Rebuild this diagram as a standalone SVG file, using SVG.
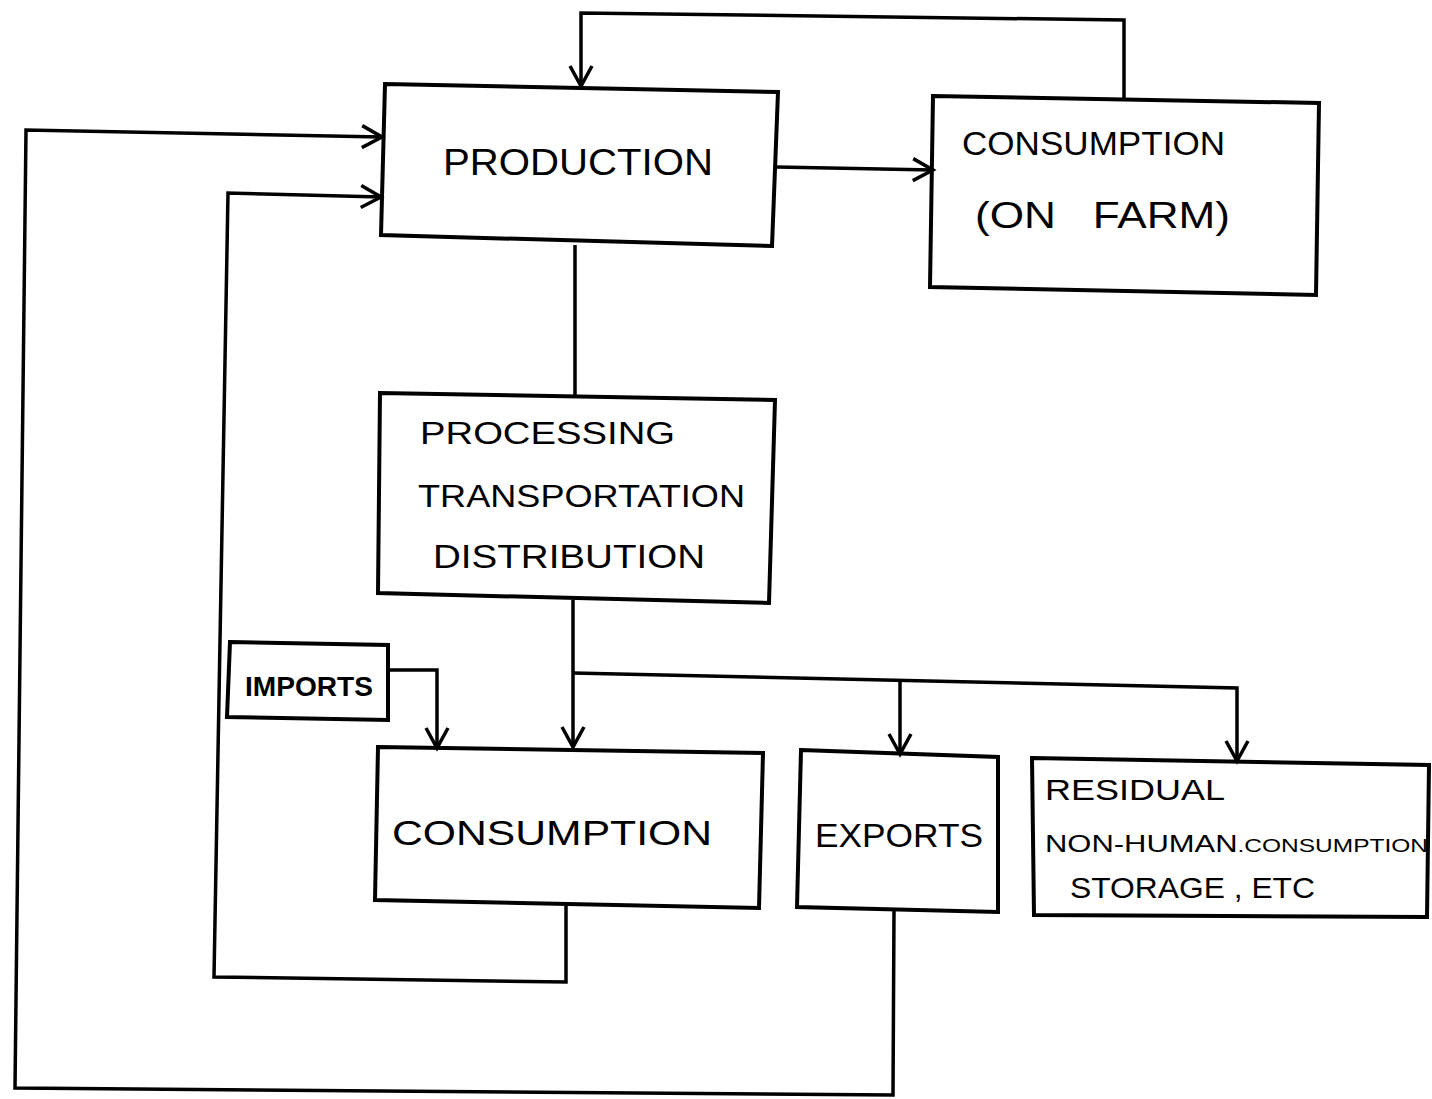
<svg xmlns="http://www.w3.org/2000/svg" width="1432" height="1099" viewBox="0 0 1432 1099">
<style>
.box{fill:none;stroke:#000;stroke-width:4;stroke-linejoin:miter}
.con{fill:none;stroke:#000;stroke-width:3.5;stroke-linejoin:miter}
.t{font-family:"Liberation Sans",Arial,sans-serif;fill:#000;white-space:pre}
</style>
<defs>
<marker id="arr" viewBox="-24 -14 28 28" refX="0" refY="0" markerWidth="28" markerHeight="28" markerUnits="userSpaceOnUse" orient="auto">
<path d="M-20,-11 L0,0 L-20,11" fill="none" stroke="#000" stroke-width="3.5"/>
</marker>
</defs>
<rect width="1432" height="1099" fill="#fff"/>
<g id="connectors">
<polyline class="con" points="1124,99 1124,20 581,13 581,86" marker-end="url(#arr)"/>
<polyline class="con" points="777,167 933,170" marker-end="url(#arr)"/>
<polyline class="con" points="894,910 893,1095 15,1088 26,130 382,137" marker-end="url(#arr)"/>
<polyline class="con" points="566,906 566,982 214,977 228,193 381,197" marker-end="url(#arr)"/>
<polyline class="con" points="575,245 575,396"/>
<polyline class="con" points="573,600 573,747" marker-end="url(#arr)"/>
<polyline class="con" points="573,673 1237,688 1237,761" marker-end="url(#arr)"/>
<polyline class="con" points="900,680 900,754" marker-end="url(#arr)"/>
<polyline class="con" points="388,670 437,670 437,748" marker-end="url(#arr)"/>
</g>
<g id="production">
<polygon class="box" points="385,84 778,92 772,246 381,235"/>
<text class="t" x="443" y="175" font-size="36" textLength="270" lengthAdjust="spacingAndGlyphs">PRODUCTION</text>
</g>
<g id="consumption-on-farm">
<polygon class="box" points="933,96 1319,103 1316,295 930,287"/>
<text class="t" x="962" y="155" font-size="33" textLength="263" lengthAdjust="spacingAndGlyphs">CONSUMPTION</text>
<text class="t" x="975" y="228" font-size="36" textLength="255" lengthAdjust="spacingAndGlyphs" xml:space="preserve">(ON   FARM)</text>
</g>
<g id="processing">
<polygon class="box" points="380,393 775,400 769,603 378,593"/>
<text class="t" x="420" y="444" font-size="32" textLength="255" lengthAdjust="spacingAndGlyphs">PROCESSING</text>
<text class="t" x="418" y="507" font-size="32" textLength="327" lengthAdjust="spacingAndGlyphs">TRANSPORTATION</text>
<text class="t" x="433" y="568" font-size="34" textLength="272" lengthAdjust="spacingAndGlyphs">DISTRIBUTION</text>
</g>
<g id="imports">
<polygon class="box" points="230,642 388,645 388,720 227,717"/>
<text class="t" x="245" y="696" font-size="27" font-weight="bold" textLength="128" lengthAdjust="spacingAndGlyphs">IMPORTS</text>
</g>
<g id="consumption">
<polygon class="box" points="378,747 763,753 759,908 375,900"/>
<text class="t" x="392" y="845" font-size="35" textLength="320" lengthAdjust="spacingAndGlyphs">CONSUMPTION</text>
</g>
<g id="exports">
<polygon class="box" points="801,750 998,757 998,912 797,907"/>
<text class="t" x="815" y="847" font-size="34" textLength="168" lengthAdjust="spacingAndGlyphs">EXPORTS</text>
</g>
<g id="residual">
<polygon class="box" points="1032,758 1429,765 1427,917 1034,915"/>
<text class="t" x="1045" y="800" font-size="29" textLength="180" lengthAdjust="spacingAndGlyphs">RESIDUAL</text>
<text class="t" x="1045" y="852" font-size="24" textLength="383" lengthAdjust="spacingAndGlyphs">NON-HUMAN<tspan font-size="19">.CONSUMPTION</tspan></text>
<text class="t" x="1070" y="898" font-size="30" textLength="245" lengthAdjust="spacingAndGlyphs">STORAGE , ETC</text>
</g>
</svg>
